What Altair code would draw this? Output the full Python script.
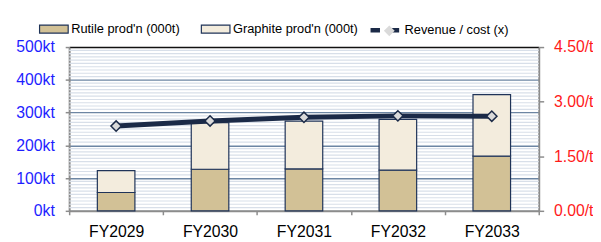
import altair as alt
import pandas as pd

years = ["FY2029", "FY2030", "FY2031", "FY2032", "FY2033"]
rutile = [56, 127, 128, 124, 167]
graphite = [67, 142, 146, 155, 188]
ratio = [2.33, 2.47, 2.57, 2.61, 2.60]
left_ticks = [0, 100, 200, 300, 400, 500]
right_ticks = [0, 1.5, 3.0, 4.5]
minor_grid = [v for v in range(10, 500, 10) if v % 100 != 0]

S_R = "Rutile prod'n (000t)"
S_G = "Graphite prod'n (000t)"
S_L = "Revenue / cost (x)"

NAVY = "#1B2A47"
FONT = "Liberation Sans"

bars_df = pd.DataFrame(
    [{"year": y, "series": S_R, "value": r, "idx": 0} for y, r in zip(years, rutile)]
    + [{"year": y, "series": S_G, "value": g, "idx": 1} for y, g in zip(years, graphite)]
)
line_df = pd.DataFrame({"year": years, "ratio": ratio, "lseries": S_L, "pseries": "marker"})
grid_df = pd.DataFrame({"v": minor_grid})

x_enc = alt.X(
    "year:N",
    sort=years,
    scale=alt.Scale(paddingInner=0, paddingOuter=0),
    axis=alt.Axis(
        title=None, labelAngle=0, tickBand="extent", labelFontSize=16, labelColor="black",
        labelPadding=9, tickSize=4, tickColor="#8C8C8C", tickWidth=1.5,
        domainColor="#8C8C8C", domainWidth=2,
    ),
)

left_axis = alt.Axis(
    title=None, values=left_ticks, labelExpr="datum.value + 'kt'", labelFontSize=16,
    labelColor="#1E1EFF", labelPadding=11, tickSize=4, tickColor="#8C8C8C", tickWidth=1.5,
    domainColor="#8C8C8C", domainWidth=2,
    grid=True,
    gridColor={"condition": {"test": "datum.value == 500", "value": "#111111"}, "value": "#6D86A3"},
    gridWidth=1.4,
)
left_scale = alt.Scale(domain=[0, 500], nice=False)

grid = alt.Chart(grid_df).mark_rule(color="#D8DFE9", strokeWidth=1.2).encode(
    y=alt.Y("v:Q", scale=left_scale, axis=left_axis)
)

bars = alt.Chart(bars_df).mark_bar(
    stroke="#1F3358", strokeWidth=1.2, width=alt.RelativeBandSize(0.4)
).encode(
    x=x_enc,
    y=alt.Y("value:Q", stack="zero", scale=left_scale, axis=left_axis),
    fill=alt.Fill(
        "series:N",
        scale=alt.Scale(domain=[S_R, S_G], range=["#D2C196", "#F3ECDD"]),
        legend=alt.Legend(
            title=None, orient="none", legendX=-31, legendY=-34, direction="horizontal",
            symbolType="M-1,-0.28H1V0.28H-1Z", symbolSize=841, symbolStrokeColor="#1F3358",
            symbolStrokeWidth=1.2, symbolOpacity=1, labelFontSize=13, labelOffset=2,
            columnPadding=18, padding=0, labelColor="black",
        ),
    ),
    order=alt.Order("idx:Q"),
)

right_scale = alt.Scale(domain=[0, 4.5], nice=False)
right_axis = alt.Axis(
    title=None, orient="right", values=right_ticks,
    labelExpr="format(datum.value, '.2f') + '/t'", labelFontSize=16, labelColor="#FF1A1A",
    labelPadding=10, tickSize=5, tickColor="#8C8C8C", tickWidth=1.5,
    domainColor="#8C8C8C", domainWidth=2, grid=False,
)

line = alt.Chart(line_df).mark_line(strokeWidth=5).encode(
    x=x_enc,
    y=alt.Y("ratio:Q", scale=right_scale, axis=right_axis),
    stroke=alt.Stroke(
        "lseries:N",
        scale=alt.Scale(domain=[S_L], range=[NAVY]),
        legend=alt.Legend(
            title=None, orient="none", legendX=303, legendY=-34,
            symbolType="M-1,0H-0.34M0.34,0H1", symbolSize=841, symbolStrokeWidth=4.5,
            labelFontSize=13, labelOffset=3, padding=0, labelColor="black",
        ),
    ),
)

points = alt.Chart(line_df).mark_point(
    filled=True, fill="#DADADA", stroke=NAVY, strokeWidth=1.5, size=110, opacity=1
).encode(
    x=x_enc,
    y=alt.Y("ratio:Q", scale=right_scale, axis=right_axis),
    shape=alt.Shape(
        "pseries:N",
        scale=alt.Scale(range=["diamond"]),
        legend=alt.Legend(
            title=None, orient="none", legendX=318, legendY=-23,
            symbolSize=120, symbolFillColor="#DADADA", symbolStrokeColor=NAVY,
            symbolStrokeWidth=1.6, symbolOpacity=1, labelExpr="''", padding=0,
        ),
    ),
)

chart = (
    alt.layer(alt.layer(grid, bars), alt.layer(line, points))
    .resolve_scale(y="independent")
    .properties(
        width=476, height=166,
        autosize=alt.AutoSizeParams(type="none"),
        padding={"left": 62, "top": 38, "right": 55, "bottom": 30},
        background="white",
    )
    .configure(font=FONT)
    .configure_view(stroke=None)
)

chart.save("out.html", embed_options={"renderer": "svg", "actions": False})
